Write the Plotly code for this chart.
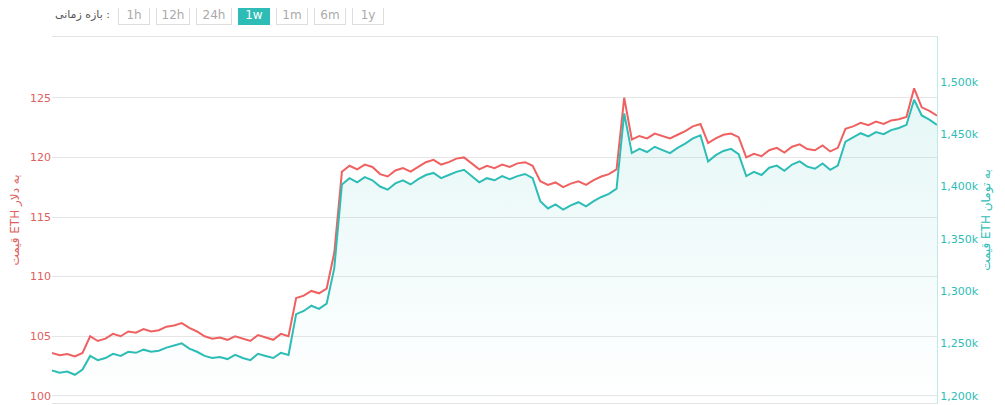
import pandas as pd
import plotly.graph_objects as go

# ETH price, USD (left axis)
usd = [103.6, 103.4, 103.5, 103.3, 103.6,
       105.0, 104.6, 104.8, 105.2, 105.0, 105.4, 105.3, 105.6, 105.4, 105.5,
       105.8, 105.9, 106.1, 105.7, 105.4, 105.0, 104.8, 104.9, 104.7, 105.0, 104.8, 104.6, 105.1, 104.9, 104.7, 105.2, 105.0,
       108.2, 108.4, 108.8, 108.6, 109.0,
       112.0, 118.8, 119.3, 119.0, 119.4, 119.2, 118.6, 118.4, 118.9, 119.1,
       118.8, 119.2, 119.6, 119.8, 119.4, 119.6, 119.9, 120.0, 119.5, 119.0, 119.3, 119.1, 119.4, 119.2, 119.5, 119.6, 119.3,
       118.0, 117.7, 117.9, 117.5, 117.8, 118.0, 117.7, 118.1, 118.4, 118.6, 119.0,
       125.0, 121.5, 121.8, 121.6, 122.0, 121.8, 121.6, 121.9, 122.2, 122.6, 122.8,
       121.2, 121.6, 121.9, 122.0, 121.7,
       120.0, 120.3, 120.1, 120.6, 120.8, 120.4, 120.9, 121.1, 120.7, 120.6, 121.0, 120.5, 120.8,
       122.4, 122.6, 122.9, 122.7, 123.0, 122.8, 123.1, 123.2, 123.4,
       125.8, 124.2, 123.9, 123.5]

# ETH price, thousand toman (right axis)
toman = [1224, 1222, 1223, 1220, 1225,
         1238, 1234, 1236, 1240, 1238, 1242, 1241, 1244, 1242, 1243,
         1246, 1248, 1250, 1245, 1242, 1238, 1236, 1237, 1235, 1239, 1236, 1234, 1240, 1238, 1236, 1241, 1239,
         1278, 1281, 1286, 1283, 1288,
         1322, 1402, 1408, 1404, 1409, 1406, 1400, 1397, 1403, 1406,
         1402, 1407, 1411, 1413, 1408, 1411, 1414, 1416, 1410, 1404, 1408, 1406, 1410, 1407, 1410, 1412, 1408,
         1386, 1379, 1383, 1378, 1382, 1385, 1381, 1386, 1390, 1393, 1398,
         1470, 1432, 1436, 1433, 1438, 1435, 1432, 1437, 1441, 1446, 1449,
         1424, 1430, 1434, 1436, 1431,
         1410, 1414, 1411, 1418, 1420, 1415, 1421, 1424, 1419, 1417, 1422, 1416, 1420,
         1443, 1447, 1451, 1448, 1452, 1450, 1454, 1456, 1459,
         1483, 1468, 1464, 1459]

ranges = ["1h", "12h", "24h", "1w", "1m", "6m", "1y"]
active = "1w"

times = pd.date_range("2020-06-01", periods=len(usd), freq="90min")
RED = "#ef6161"
TEAL = "#2dbdb6"

fig = go.Figure()
fig.add_trace(go.Scatter(
    x=times, y=[v * 1000 for v in toman], yaxis="y2", mode="lines",
    line=dict(color=TEAL, width=2), fill="tozeroy",
    fillgradient=dict(type="vertical", start=1193000, stop=1500000,
                      colorscale=[[0, "rgba(45,189,182,0.0)"], [1, "rgba(45,189,182,0.13)"]]),
    hoverinfo="skip", showlegend=False))
fig.add_trace(go.Scatter(
    x=times, y=usd, mode="lines", line=dict(color=RED, width=2),
    hoverinfo="skip", showlegend=False))

# the page puts the figure 8px in from the top-left, so it is sized to fit the window
L, T, R, B = 44, 29, 68, 2
W, H = 997, 397
F = "DejaVu Sans, sans-serif"
fig.update_layout(
    width=W, height=H, margin=dict(l=L, r=R, t=T, b=B),
    paper_bgcolor="white", plot_bgcolor="white", font=dict(family=F, size=11),
    xaxis=dict(showticklabels=False, showgrid=False, zeroline=False,
               showline=True, linecolor="#e3e3e3", mirror=True, ticks=""),
    yaxis=dict(range=[99.4, 130.1], tickvals=[100, 105, 110, 115, 120, 125],
               tickfont=dict(color="#e06060", size=11), gridcolor="#e6e6e6",
               zeroline=False, showline=False, automargin=False,
               title=dict(text="قیمت ETH به دلار", font=dict(color="#e06060", size=12), standoff=8)),
    yaxis2=dict(overlaying="y", side="right", range=[1193000, 1543000],
                tickvals=[1200000, 1250000, 1300000, 1350000, 1400000, 1450000, 1500000],
                ticktext=["1,200k", "1,250k", "1,300k", "1,350k", "1,400k", "1,450k", "1,500k"],
                tickfont=dict(color=TEAL, size=11), showgrid=False, zeroline=False,
                showline=True, linecolor="#bfe9e6", automargin=False,
                title=dict(text="قیمت ETH به تومان", font=dict(color=TEAL, size=12), standoff=2)),
)

# range selector buttons
ph = H - T - B
pw = W - L - R
x0 = 110
widths = [34, 36, 38, 34, 34, 34, 34]
for r, w in zip(ranges, widths):
    on = r == active
    fig.add_annotation(
        xref="paper", yref="paper", x=(x0 - L) / pw, y=1 + (T - 7) / ph,
        xanchor="left", yanchor="middle", text=r, showarrow=False,
        font=dict(color="white" if on else "#aaaaaa", size=12, family=F),
        bgcolor=TEAL if on else "white", bordercolor=TEAL if on else "#dddddd",
        borderwidth=1, borderpad=2, width=w - 8)
    x0 += w + 4
fig.add_annotation(xref="paper", yref="paper", x=(104 - L) / pw, y=1 + (T - 7) / ph,
                   xanchor="right", yanchor="middle", text="بازه زمانی :", showarrow=False,
                   font=dict(color="#555555", size=11, family=F))

fig.write_html("out.html")
